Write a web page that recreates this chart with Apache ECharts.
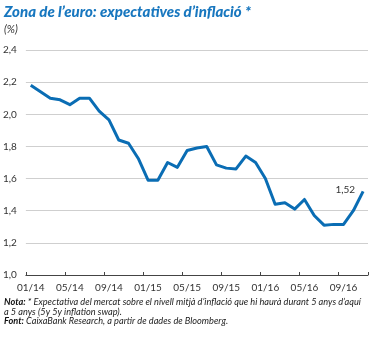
<!DOCTYPE html>
<html>
<head>
<meta charset="utf-8">
<script src="https://cdn.jsdelivr.net/npm/echarts@6/dist/echarts.min.js"></script>
<style>
html,body{margin:0;padding:0;background:#fff;}
#c{width:373px;height:338px;}
</style>
</head>
<body>
<div id="c"></div>
<script>
var months = ['01/14','02/14','03/14','04/14','05/14','06/14','07/14','08/14','09/14','10/14','11/14','12/14',
  '01/15','02/15','03/15','04/15','05/15','06/15','07/15','08/15','09/15','10/15','11/15','12/15',
  '01/16','02/16','03/16','04/16','05/16','06/16','07/16','08/16','09/16','10/16','11/16'];
var swap5y5y = [2.18,2.14,2.10,2.09,2.06,2.10,2.10,2.02,1.965,1.84,1.82,1.725,
  1.59,1.59,1.70,1.67,1.775,1.79,1.80,1.685,1.665,1.66,1.74,1.70,
  1.60,1.44,1.45,1.41,1.47,1.37,1.31,1.315,1.315,1.40,1.52];
var yTicks = {min:1.0, max:2.4, interval:0.2};
var lastLabel = '1,52';

var chart = echarts.init(document.getElementById('c'), null, {renderer:'canvas'});
var blue = '#0a6db4';
var font = 'Lato';
chart.setOption({
  animation:false,
  grid:{left:25, right:5, top:50, bottom:63, containLabel:false},
  graphic:[
    {type:'text', left:4, top:5, style:{text:"Zona de l\u2019euro: expectatives d\u2019inflaci\u00f3 *", fill:'#1877bf', font:'italic 900 15px Lato'}},
    {type:'text', left:4, top:24, style:{text:'(%)', fill:'#333', font:'italic 11px Lato'}},
    {type:'text', left:4, top:297, style:{
      text:'{b|Nota:} * Expectativa del mercat sobre el nivell mitj\u00e0 d\u2019inflaci\u00f3 que hi haur\u00e0 durant 5 anys d\u2019aqu\u00ed\na 5 anys (5y 5y inflation swap).\n{b|Font:} CaixaBank Research, a partir de dades de Bloomberg.',
      fill:'#222', font:'italic 9.2px Lato', lineHeight:9.8,
      rich:{b:{font:'italic bold 9.2px Lato', fill:'#111', lineHeight:9.8}}
    }}
  ],
  xAxis:{
    type:'category', data:months, boundaryGap:true,
    axisLine:{lineStyle:{color:'#444', width:1}},
    axisTick:{show:true, inside:true, length:3, interval:3, lineStyle:{color:'#444'}},
    axisLabel:{interval:3, color:'#333', fontSize:10, fontFamily:font, margin:8},
    splitLine:{show:false}
  },
  yAxis:{
    type:'value', min:yTicks.min, max:yTicks.max, interval:yTicks.interval,
    axisLine:{show:false}, axisTick:{show:false},
    axisLabel:{color:'#333', fontSize:10, fontFamily:font, margin:9,
      formatter:function(v){return v.toFixed(1).replace('.',',');}},
    splitLine:{lineStyle:{color:'#cfcfcf', width:1}}
  },
  series:[{
    type:'line',
    data:swap5y5y.map(function(v,i){
      return i===swap5y5y.length-1 ? {value:v, label:{show:true, formatter:lastLabel, position:'left', distance:8, offset:[0,-2], color:'#333', fontSize:10, fontFamily:font}} : v;
    }),
    symbol:'circle', symbolSize:0, showSymbol:true,
    label:{show:false},
    lineStyle:{color:blue, width:3, join:'round'}, itemStyle:{color:blue}
  }]
});
</script>
</body>
</html>
